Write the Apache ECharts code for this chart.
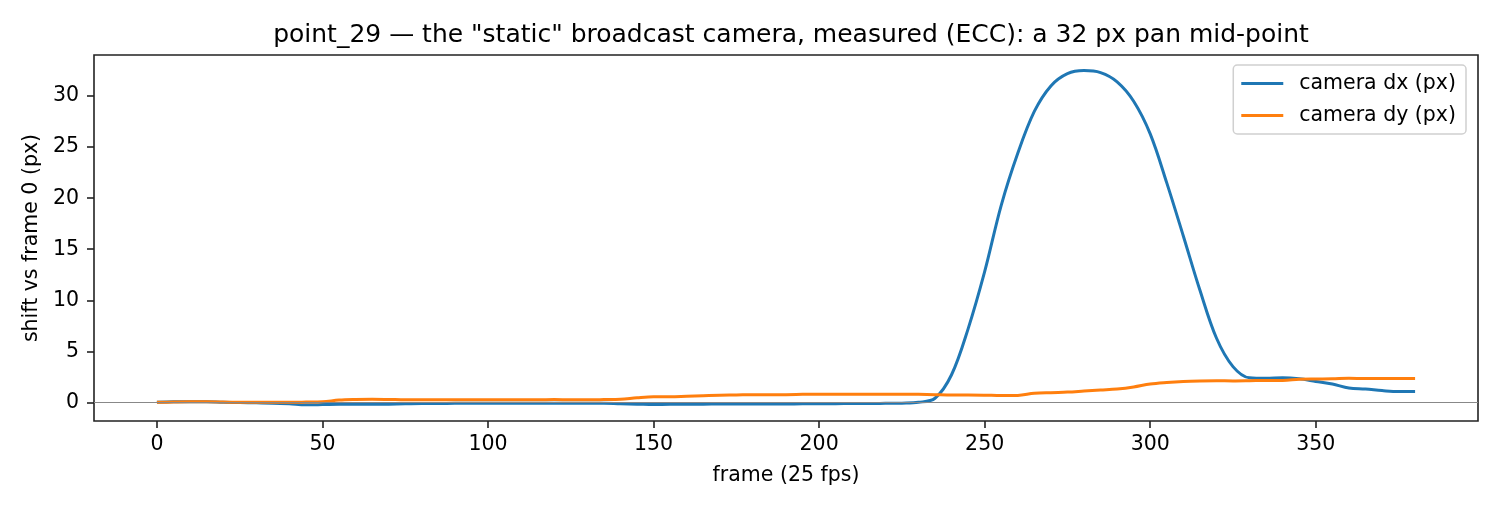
<!DOCTYPE html>
<html>
<head>
<meta charset="utf-8">
<script src="https://cdn.jsdelivr.net/npm/echarts@6/dist/echarts.min.js"></script>
<style>
  html, body { margin: 0; padding: 0; background: #fff; }
  #chart { width: 1500px; height: 510px; }
</style>
</head>
<body>
<div id="chart"></div>
<script>
// frame index (every 5 frames)
const frames = [
  0, 5, 10, 15, 20, 25, 30, 35, 40, 45, 50, 55, 60, 65, 70, 75, 80, 85, 90, 95,
  100, 105, 110, 115, 120, 125, 130, 135, 140, 145, 150, 155, 160, 165, 170, 175, 180, 185, 190, 195,
  200, 205, 210, 215, 220, 225, 230, 235, 240, 245, 250, 255, 260, 265, 270, 275, 280, 285, 290, 295,
  300, 305, 310, 315, 320, 325, 330, 335, 340, 345, 350, 355, 360, 365, 370, 375, 380
];
// camera dx (px)
const dxValues = [
  0.0, 0.05, 0.05, 0.05, 0.0, -0.02, -0.05, -0.08, -0.15, -0.25, -0.22, -0.18, -0.2, -0.2, -0.18, -0.15, -0.12, -0.12, -0.1, -0.1,
  -0.1, -0.08, -0.08, -0.08, -0.08, -0.08, -0.1, -0.1, -0.15, -0.18, -0.22, -0.2, -0.2, -0.18, -0.17, -0.17, -0.17, -0.16, -0.16, -0.15,
  -0.15, -0.13, -0.12, -0.12, -0.1, -0.08, 0.0, 0.4, 2.7, 7.2, 12.8, 19.3, 24.4, 28.5, 31.0, 32.2, 32.5, 32.3, 31.4, 29.5,
  26.3, 21.5, 16.3, 11.0, 6.3, 3.5, 2.4, 2.35, 2.4, 2.3, 2.05, 1.8, 1.4, 1.3, 1.15, 1.05, 1.05
];
// camera dy (px)
const dyValues = [
  0.0, 0.03, 0.05, 0.05, 0.03, 0.0, 0.0, 0.0, 0.0, 0.02, 0.05, 0.22, 0.28, 0.3, 0.28, 0.25, 0.25, 0.25, 0.25, 0.25,
  0.25, 0.25, 0.25, 0.25, 0.27, 0.25, 0.25, 0.27, 0.3, 0.45, 0.55, 0.55, 0.6, 0.65, 0.7, 0.72, 0.75, 0.75, 0.75, 0.78,
  0.8, 0.8, 0.8, 0.78, 0.78, 0.8, 0.78, 0.75, 0.72, 0.72, 0.7, 0.66, 0.68, 0.88, 0.95, 1.0, 1.1, 1.2, 1.3, 1.5,
  1.8, 1.95, 2.05, 2.1, 2.12, 2.1, 2.12, 2.15, 2.15, 2.25, 2.28, 2.3, 2.35, 2.33, 2.33, 2.33, 2.33
];
const xTicks = [0, 50, 100, 150, 200, 250, 300, 350];
const yTicks = [0, 5, 10, 15, 20, 25, 30];
const seriesNames = ["camera dx (px)", "camera dy (px)"];

const chart = echarts.init(document.getElementById("chart"));
const font = "DejaVu Sans";
const zip = (xs, ys) => xs.map((x, i) => [x, ys[i]]);

chart.setOption({
  animation: false,
  textStyle: { fontFamily: font },
  title: {
    text: 'point_29 — the "static" broadcast camera, measured (ECC): a 32 px pan mid-point',
    left: 786,
    top: 18,
    textAlign: "center",
    textStyle: { fontFamily: font, fontSize: 25, fontWeight: "normal", color: "#000" },
  },
  grid: {
    left: 94,
    right: 22,
    top: 55,
    bottom: 89,
    show: true,
    borderColor: "#222",
    borderWidth: 1.6,
    containLabel: false,
  },
  legend: {
    orient: "vertical",
    right: 34,
    top: 65,
    data: seriesNames,
    icon: "rect",
    itemWidth: 42,
    itemHeight: 3,
    itemGap: 11,
    padding: [8, 10, 8, 8],
    borderColor: "#d0d0d0",
    borderWidth: 1.5,
    borderRadius: 4,
    textStyle: { fontFamily: font, fontSize: 20.5, color: "#000", lineHeight: 20, padding: [0, 0, 0, 11] },
  },
  xAxis: {
    type: "value",
    min: -19,
    max: 399,
    name: "frame (25 fps)",
    nameLocation: "middle",
    nameGap: 44,
    nameTextStyle: { fontFamily: font, fontSize: 20.5, color: "#000" },
    axisLine: { show: false, onZero: false },
    axisTick: { show: true, length: 7, lineStyle: { color: "#222", width: 1.6 }, customValues: xTicks },
    axisLabel: { fontFamily: font, fontSize: 20.5, color: "#000", margin: 13, customValues: xTicks },
    splitLine: { show: false },
  },
  yAxis: {
    type: "value",
    min: -1.83,
    max: 34.03,
    name: "shift vs frame 0 (px)",
    nameLocation: "middle",
    nameRotate: 90,
    nameGap: 50,
    nameTextStyle: { fontFamily: font, fontSize: 20.5, color: "#000" },
    axisLine: { show: false, onZero: false },
    axisTick: { show: true, length: 7, lineStyle: { color: "#222", width: 1.6 }, customValues: yTicks },
    axisLabel: { fontFamily: font, fontSize: 20.5, color: "#000", margin: 15, customValues: yTicks },
    splitLine: { show: false },
  },
  series: [
    {
      name: seriesNames[0],
      type: "line",
      data: zip(frames, dxValues),
      showSymbol: false,
      smooth: 0.35,
      lineStyle: { color: "#1f77b4", width: 3 },
      itemStyle: { color: "#1f77b4" },
      markLine: {
        silent: true,
        symbol: "none",
        label: { show: false },
        lineStyle: { color: "#888", width: 1.2, type: "solid" },
        data: [{ yAxis: 0 }],
      },
    },
    {
      name: seriesNames[1],
      type: "line",
      data: zip(frames, dyValues),
      showSymbol: false,
      smooth: 0.35,
      lineStyle: { color: "#ff7f0e", width: 3 },
      itemStyle: { color: "#ff7f0e" },
    },
  ],
});
</script>
</body>
</html>
